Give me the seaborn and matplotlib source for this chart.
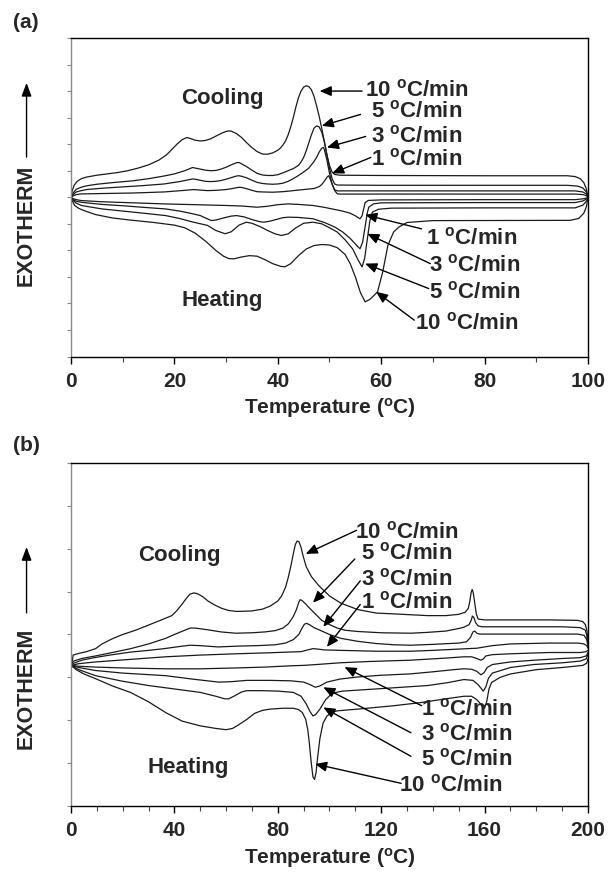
import numpy as np
import matplotlib
matplotlib.use("Agg")
import matplotlib.pyplot as plt
import seaborn as sns
from matplotlib.ticker import MultipleLocator, FixedLocator

# ---------------- Panel (a) data: temperature (C) / heat flow (arb.) ----------------
a_cool10_x = [100, 99.7, 99.2, 98.5, 97.5, 96, 80, 60, 52, 51, 50.5, 50, 49.5, 49, 48.5, 48, 47.5, 47, 46.5, 46, 45.5, 45, 44.5, 44, 43.5, 43, 42.5, 42, 41.5, 41, 40.5, 40, 39, 38, 37, 36, 35, 34, 33, 32, 31, 30.5, 30, 29, 28, 27, 26, 25, 24, 23, 22.4, 21.5, 20.5, 19.5, 18.5, 17, 15, 13, 11, 9, 7, 5, 3, 2, 1.2, 0.6, 0.2, 0]
a_cool10_y = [0, 0.3, 0.55, 0.7, 0.78, 0.81, 0.81, 0.82, 0.83, 0.86, 0.95, 1.2, 1.6, 2.1, 2.6, 3.05, 3.45, 3.8, 4.05, 4.17, 4.2, 4.15, 4.0, 3.75, 3.4, 3.0, 2.65, 2.35, 2.12, 1.97, 1.85, 1.77, 1.67, 1.62, 1.63, 1.72, 1.87, 2.05, 2.25, 2.4, 2.49, 2.5, 2.48, 2.4, 2.3, 2.2, 2.14, 2.12, 2.15, 2.22, 2.25, 2.17, 2.0, 1.8, 1.6, 1.4, 1.22, 1.1, 1.0, 0.93, 0.88, 0.83, 0.76, 0.7, 0.6, 0.45, 0.22, 0]
a_cool5_x = [100, 99.7, 99, 98, 96, 60, 51.5, 51, 50.5, 50, 49.5, 49, 48.5, 48, 47.5, 47, 46.5, 46, 45.5, 45, 44.5, 44, 43, 42, 41, 40, 39, 38, 37, 36, 35, 34, 33, 32.5, 32, 31, 30, 29, 28, 27, 26, 25, 24, 23.5, 23, 22, 20, 18, 15, 12, 8, 5, 3, 2, 1, 0.4, 0]
a_cool5_y = [0, 0.2, 0.35, 0.42, 0.45, 0.45, 0.46, 0.5, 0.7, 1.1, 1.6, 2.1, 2.45, 2.65, 2.69, 2.6, 2.35, 2.05, 1.75, 1.5, 1.33, 1.2, 1.08, 1.0, 0.92, 0.85, 0.82, 0.82, 0.84, 0.9, 1.02, 1.15, 1.26, 1.31, 1.3, 1.22, 1.13, 1.06, 1.01, 1.0, 1.02, 1.06, 1.1, 1.12, 1.08, 1.0, 0.88, 0.8, 0.7, 0.62, 0.55, 0.49, 0.43, 0.38, 0.3, 0.16, 0]
a_cool3_x = [100, 99.7, 99, 97.5, 60, 51.5, 51, 50.5, 50, 49.5, 49, 48.8, 48.5, 48, 47.5, 47, 46.5, 46, 45, 44, 43, 42, 41, 40, 39, 38, 37, 36, 35, 34, 33, 32.5, 32, 31, 30, 29, 28, 27, 26, 25, 24, 23.5, 22.5, 21, 18, 14, 10, 6, 3, 2, 1, 0.4, 0]
a_cool3_y = [0, 0.12, 0.2, 0.24, 0.24, 0.24, 0.28, 0.5, 0.9, 1.4, 1.8, 1.875, 1.85, 1.7, 1.5, 1.35, 1.22, 1.1, 0.95, 0.82, 0.7, 0.6, 0.53, 0.5, 0.49, 0.5, 0.52, 0.56, 0.64, 0.73, 0.79, 0.81, 0.8, 0.74, 0.68, 0.63, 0.6, 0.59, 0.6, 0.64, 0.68, 0.69, 0.65, 0.59, 0.5, 0.44, 0.39, 0.34, 0.29, 0.25, 0.2, 0.1, 0]
a_cool1_x = [100, 99.7, 99, 97.5, 60, 52, 51.5, 51, 50.5, 50, 49.8, 49.5, 49, 48.5, 48, 47, 45, 43, 41, 39, 37, 36, 35, 34, 33, 32.5, 32, 31, 30, 28, 26.4, 25, 23.7, 22, 18, 12, 6, 2, 1, 0.4, 0]
a_cool1_y = [0, 0.06, 0.1, 0.12, 0.12, 0.12, 0.13, 0.25, 0.5, 0.75, 0.81, 0.75, 0.6, 0.48, 0.4, 0.33, 0.29, 0.25, 0.21, 0.19, 0.2, 0.21, 0.26, 0.32, 0.37, 0.375, 0.36, 0.32, 0.29, 0.26, 0.25, 0.27, 0.29, 0.26, 0.2, 0.16, 0.14, 0.125, 0.1, 0.05, 0]
a_heat1_x = [0, 0.4, 1, 2, 6, 12, 18, 24, 30, 33, 36, 38, 40, 42, 44, 46.8, 49, 51, 52.5, 54, 55, 55.9, 56.3, 56.6, 56.9, 57.5, 60, 80, 97.5, 99, 99.7, 100]
a_heat1_y = [0, -0.05, -0.09, -0.125, -0.17, -0.21, -0.25, -0.28, -0.31, -0.33, -0.375, -0.34, -0.28, -0.25, -0.27, -0.31, -0.38, -0.46, -0.52, -0.6, -0.7, -0.81, -0.7, -0.45, -0.2, -0.12, -0.1, -0.09, -0.09, -0.06, -0.03, 0]
a_heat3_x = [0, 0.4, 1, 2, 6, 10, 14, 18.3, 21, 23, 25, 26, 27.1, 28, 29.5, 31, 32, 33.5, 35, 36.5, 37.3, 38.5, 40, 41, 42, 44, 46.8, 49, 51, 52.5, 54, 55.2, 55.9, 56.4, 56.9, 57.3, 57.6, 58.5, 60, 80, 97.5, 99, 99.7, 100]
a_heat3_y = [0, -0.09, -0.15, -0.19, -0.27, -0.32, -0.38, -0.44, -0.52, -0.6, -0.69, -0.78, -0.875, -0.86, -0.78, -0.71, -0.69, -0.74, -0.84, -0.92, -0.94, -0.9, -0.82, -0.77, -0.75, -0.76, -0.81, -0.95, -1.12, -1.3, -1.55, -1.8, -1.94, -1.7, -1.1, -0.6, -0.375, -0.25, -0.21, -0.2, -0.2, -0.14, -0.07, 0]
a_heat5_x = [0, 0.4, 1, 2, 6, 10, 14, 18.3, 21, 23.5, 26.4, 28, 29.8, 31, 32.5, 33.9, 35, 36.5, 38, 39.5, 40.7, 42, 43.5, 45, 46.8, 48.5, 50, 51.5, 53, 54.5, 55.5, 56.3, 56.8, 57.3, 57.8, 58.3, 59.5, 62, 80, 97.5, 99, 99.7, 100]
a_heat5_y = [0, -0.12, -0.22, -0.31, -0.44, -0.52, -0.6, -0.69, -0.8, -0.93, -1.06, -1.25, -1.375, -1.3, -1.05, -0.94, -0.98, -1.1, -1.25, -1.38, -1.44, -1.38, -1.15, -0.98, -0.94, -1.0, -1.15, -1.31, -1.6, -1.95, -2.35, -2.625, -2.3, -1.6, -0.9, -0.56, -0.45, -0.41, -0.4, -0.4, -0.3, -0.15, 0]
a_heat10_x = [0, 0.3, 0.7, 1.5, 2.5, 4.7, 8, 11.5, 16, 20, 22, 24, 26, 28, 29.5, 30.5, 31.5, 33, 34.5, 36, 37.5, 39, 40.5, 41.4, 42.5, 44, 45.5, 47, 48.5, 50, 51.5, 53, 54, 55, 56, 56.9, 57.8, 58.6, 59.3, 60.3, 61.3, 62.4, 63.4, 65, 70, 96.5, 98.2, 99.2, 99.7, 100]
a_heat10_y = [0, -0.15, -0.31, -0.42, -0.5, -0.65, -0.78, -0.86, -0.95, -1.05, -1.15, -1.35, -1.65, -2.0, -2.22, -2.31, -2.32, -2.25, -2.2, -2.22, -2.35, -2.5, -2.6, -2.62, -2.5, -2.2, -1.95, -1.82, -1.78, -1.8, -1.9, -2.15, -2.5, -3.0, -3.6, -3.94, -3.85, -3.7, -3.56, -2.81, -1.81, -1.31, -1.125, -0.95, -0.88, -0.87, -0.8, -0.6, -0.35, 0]

# ---------------- Panel (b) data ----------------
b_cool10_x = [200, 199.6, 199, 198, 196, 185, 170, 160, 157.5, 156.8, 156.2, 155.6, 155.2, 154.8, 154.3, 153.7, 152.5, 150, 145, 138, 131.5, 125, 118, 111, 104.4, 100, 96, 93, 91, 89.8, 89, 88.2, 87.5, 86.8, 86, 85, 84, 83, 81.5, 80, 77, 74, 70, 66, 63.7, 61, 58.3, 55.5, 53, 51, 49, 47.5, 46, 44.7, 43, 41, 39, 35, 30, 25, 20, 16.3, 12, 9.5, 6, 3, 1.4, 0.8, 0.5, 0]
b_cool10_y = [0.55, 0.8, 0.95, 1.02, 1.05, 1.06, 1.06, 1.06, 1.08, 1.2, 1.45, 1.7, 1.77, 1.7, 1.5, 1.33, 1.24, 1.19, 1.16, 1.16, 1.18, 1.2, 1.22, 1.3, 1.45, 1.62, 1.85, 2.07, 2.3, 2.55, 2.75, 2.88, 2.9, 2.82, 2.6, 2.3, 2.04, 1.82, 1.62, 1.5, 1.38, 1.31, 1.27, 1.26, 1.26, 1.28, 1.33, 1.41, 1.5, 1.6, 1.67, 1.69, 1.66, 1.57, 1.43, 1.28, 1.16, 1.06, 0.94, 0.82, 0.72, 0.63, 0.5, 0.39, 0.32, 0.28, 0.25, 0.24, 0.1, 0]
b_cool5_x = [200, 199.5, 199, 197, 190, 170, 159, 157.5, 156.5, 155.8, 155.3, 154.8, 154, 152, 150, 145, 138, 131.5, 120, 111, 106, 103, 100, 97, 94.5, 92.2, 90.5, 89.2, 88.6, 88, 87.2, 86, 84.1, 82, 79, 75, 70, 63.7, 58, 52.9, 48, 46.1, 44, 40, 36.6, 30, 23.1, 16, 9.5, 4.1, 1, 0.4, 0]
b_cool5_y = [0.5, 0.7, 0.82, 0.88, 0.9, 0.9, 0.9, 0.92, 1.0, 1.12, 1.15, 1.05, 0.95, 0.89, 0.86, 0.8, 0.77, 0.75, 0.76, 0.79, 0.82, 0.87, 0.95, 1.05, 1.2, 1.34, 1.45, 1.52, 1.53, 1.45, 1.3, 1.14, 0.97, 0.87, 0.81, 0.78, 0.76, 0.75, 0.78, 0.83, 0.87, 0.87, 0.82, 0.72, 0.63, 0.5, 0.39, 0.3, 0.22, 0.16, 0.1, 0.05, 0]
b_cool3_x = [200, 199.5, 198.5, 196, 170, 158, 157, 156.2, 155.5, 154.5, 153, 150, 140, 131.5, 125, 118, 111, 104.4, 100, 96.3, 94, 92.5, 91.2, 90.3, 89.3, 88.1, 86, 83, 79, 72, 65, 56.9, 50, 46.1, 42, 36, 30, 23.1, 15, 9, 4.1, 1, 0]
b_cool3_y = [0.45, 0.6, 0.7, 0.73, 0.73, 0.73, 0.75, 0.8, 0.78, 0.65, 0.55, 0.52, 0.49, 0.47, 0.48, 0.51, 0.56, 0.63, 0.72, 0.82, 0.88, 0.94, 0.98, 0.96, 0.86, 0.72, 0.6, 0.52, 0.48, 0.46, 0.45, 0.43, 0.46, 0.47, 0.44, 0.39, 0.35, 0.31, 0.24, 0.18, 0.12, 0.05, 0]
b_cool1_x = [200, 199.5, 198.5, 196, 185, 170, 163, 159, 157, 150, 140, 131.5, 118, 104.4, 98, 95.5, 93.6, 91.5, 89, 84.1, 75, 63.7, 50, 36.6, 23, 9.5, 3, 0]
b_cool1_y = [0.4, 0.46, 0.5, 0.52, 0.52, 0.5, 0.46, 0.42, 0.4, 0.38, 0.35, 0.33, 0.33, 0.35, 0.36, 0.38, 0.39, 0.36, 0.32, 0.31, 0.29, 0.27, 0.24, 0.2, 0.14, 0.08, 0.04, 0]
b_heat1_x = [0, 3, 9.5, 20, 36.6, 50, 63.7, 75, 85, 90, 95, 104, 115, 131, 145, 152, 155, 157, 158.6, 159.5, 160.5, 163, 170, 185, 197, 199.3, 200]
b_heat1_y = [0, -0.02, -0.04, -0.06, -0.08, -0.08, -0.06, -0.04, -0.01, 0.0, 0.02, 0.06, 0.09, 0.12, 0.17, 0.2, 0.2, 0.16, 0.12, 0.15, 0.22, 0.25, 0.27, 0.3, 0.3, 0.32, 0.35]
b_heat3_x = [0, 3, 9.5, 20, 36.6, 47, 57, 62, 68, 77, 85, 90, 92.5, 94.5, 96.3, 99, 104, 111, 120, 131, 140, 148, 152, 155, 157, 158.6, 159.8, 161, 163, 170, 179, 190, 197, 199.3, 200]
b_heat3_y = [0, -0.05, -0.12, -0.18, -0.24, -0.32, -0.39, -0.38, -0.35, -0.35, -0.36, -0.39, -0.45, -0.51, -0.48, -0.39, -0.32, -0.27, -0.23, -0.2, -0.15, -0.1, -0.08, -0.09, -0.14, -0.22, -0.17, -0.05, 0.02, 0.08, 0.12, 0.16, 0.18, 0.22, 0.3]
b_heat5_x = [0, 3, 9.5, 20, 30, 40, 50, 56, 59.5, 61, 63, 66, 68, 74, 80, 86, 89, 91, 92.5, 93.6, 94.6, 96.3, 98.5, 101, 105, 118, 128, 138, 146, 152, 155.5, 157.5, 159.5, 160.5, 161.5, 163, 170, 179, 190, 197, 199.3, 200]
b_heat5_y = [0, -0.1, -0.24, -0.37, -0.47, -0.55, -0.63, -0.72, -0.78, -0.78, -0.72, -0.62, -0.59, -0.59, -0.6, -0.63, -0.72, -0.9, -1.08, -1.18, -1.15, -1.02, -0.8, -0.65, -0.6, -0.55, -0.51, -0.47, -0.4, -0.33, -0.35, -0.45, -0.6, -0.5, -0.3, -0.18, -0.05, 0.02, 0.06, 0.1, 0.15, 0.25]
b_heat10_x = [0, 2, 5, 9.5, 16, 23, 30, 36.6, 43, 50, 56, 60, 62.5, 65, 68, 71, 74, 77, 82, 86, 88, 89.5, 90.8, 91.6, 92.2, 92.9, 93.6, 94.2, 94.8, 95.4, 96.3, 97.5, 99, 101, 103, 111, 118, 125, 135, 145, 152, 155, 157, 158.5, 160, 160.8, 161.7, 162.7, 166, 170, 180, 190, 198, 199.5, 200]
b_heat10_y = [0, -0.1, -0.2, -0.31, -0.48, -0.63, -0.85, -1.1, -1.3, -1.41, -1.47, -1.5, -1.47, -1.38, -1.26, -1.12, -1.05, -1.02, -1.0, -1.0, -1.03, -1.1, -1.26, -1.5, -1.81, -2.25, -2.6, -2.66, -2.5, -2.15, -1.7, -1.35, -1.18, -1.1, -1.06, -1.02, -0.98, -0.94, -0.87, -0.78, -0.72, -0.72, -0.8, -0.9, -1.0, -0.85, -0.55, -0.4, -0.28, -0.2, -0.1, -0.05, 0.0, 0.05, 0.15]

rate_labels = ["10", "5", "3", "1"]
heat_labels = ["1", "3", "5", "10"]
xticks_a = [0, 20, 40, 60, 80, 100]
xticks_b = [0, 40, 80, 120, 160, 200]

# ---------------- style ----------------
sns.set_style("ticks")
plt.rcParams["font.family"] = ["Liberation Sans", "DejaVu Sans"]
plt.rcParams["font.weight"] = "bold"
plt.rcParams["mathtext.fontset"] = "custom"
plt.rcParams["mathtext.rm"] = "Liberation Sans:bold"
plt.rcParams["mathtext.bf"] = "Liberation Sans:bold"
plt.rcParams["mathtext.it"] = "Liberation Sans:bold"
DEG = r"$^{\mathrm{o}}$"
LC = "#1a1a1a"

fig = plt.figure(figsize=(6.10, 8.73), dpi=100)
axA = fig.add_axes([0.1164, 0.5916, 0.8475, 0.3649])
axB = fig.add_axes([0.1164, 0.0767, 0.8475, 0.3930])


def draw_curves(ax, curves):
    for x, y in curves:
        sns.lineplot(x=x, y=y, ax=ax, sort=False, estimator=None,
                     color=LC, lw=0.9, legend=False)


def style_axes(ax, xlim, ylim, xticks, minor_step, yticks):
    ax.set_xlim(*xlim)
    ax.set_ylim(*ylim)
    ax.xaxis.set_major_locator(FixedLocator(xticks))
    ax.xaxis.set_minor_locator(MultipleLocator(minor_step))
    ax.set_xticklabels([str(t) for t in xticks], fontsize=15, fontweight="bold")
    ax.yaxis.set_major_locator(FixedLocator(yticks))
    ax.set_yticklabels([])
    ax.tick_params(axis="x", which="major", length=5, width=1, color="black", pad=6, direction="out")
    ax.tick_params(axis="x", which="minor", length=3.5, width=0.8, color="#444", direction="out")
    ax.tick_params(axis="y", which="major", length=3, width=0.8, color="#888", direction="out")
    for s in ["top", "right", "bottom"]:
        ax.spines[s].set_visible(True)
        ax.spines[s].set_color("black")
        ax.spines[s].set_linewidth(1.0)
    ax.spines["left"].set_color("#8a8a8a")
    ax.spines["left"].set_linewidth(1.0)
    ax.set_xlabel("Temperature (" + DEG + "C)", fontsize=15, fontweight="bold", labelpad=4)
    ax.set_ylabel("")
    ax.grid(False)


def label(ax, text, pos, start, tip):
    ax.text(pos[0], pos[1], text, ha="center", va="center", fontsize=16, fontweight="bold")
    ax.annotate("", xy=tip, xytext=start,
                arrowprops=dict(arrowstyle="-|>,head_length=0.7,head_width=0.3",
                                color="black", lw=1.0, shrinkA=0, shrinkB=0,
                                mutation_scale=10))


def exotherm(ax, text_y, arrow_base, arrow_tip):
    ax.text(-0.086, text_y, "EXOTHERM", transform=ax.transAxes, rotation=90,
            ha="center", va="center", fontsize=15.5, fontweight="bold")
    ax.annotate("", xy=(-0.086, arrow_tip), xytext=(-0.086, arrow_base),
                xycoords="axes fraction", textcoords="axes fraction",
                arrowprops=dict(arrowstyle="-|>,head_length=0.8,head_width=0.3",
                                color="black", lw=1.0, shrinkA=0, shrinkB=0,
                                mutation_scale=10))


# ---------------- Panel (a) ----------------
draw_curves(axA, [(a_cool10_x, a_cool10_y), (a_cool5_x, a_cool5_y), (a_cool3_x, a_cool3_y),
                  (a_cool1_x, a_cool1_y), (a_heat1_x, a_heat1_y), (a_heat3_x, a_heat3_y),
                  (a_heat5_x, a_heat5_y), (a_heat10_x, a_heat10_y)])
style_axes(axA, (0, 100), (-6, 6), xticks_a, 10, np.arange(-6, 6.01, 1))
axA.text(29.2, 3.71, "Cooling", ha="center", va="center", fontsize=16, fontweight="bold")
axA.text(29.2, -3.89, "Heating", ha="center", va="center", fontsize=16, fontweight="bold")

a_cool_pos = [(66.8, 4.04), (66.9, 3.25), (66.8, 2.31), (66.8, 1.44)]
a_cool_start = [(56.3, 4.0), (56.0, 3.12), (57.0, 2.29), (58.0, 1.5)]
a_cool_tip = [(48.1, 4.0), (48.5, 2.69), (49.5, 1.875), (50.5, 0.9)]
for r, p, s, t in zip(rate_labels, a_cool_pos, a_cool_start, a_cool_tip):
    label(axA, r + " " + DEG + "C/min", p, s, t)

a_heat_pos = [(77.4, -1.56), (78.0, -2.56), (78.0, -3.59), (76.6, -4.75)]
a_heat_start = [(67.8, -1.19), (69.5, -2.5), (69.2, -3.44), (66.4, -4.63)]
a_heat_tip = [(56.9, -0.66), (57.3, -1.375), (56.9, -2.5), (59.0, -3.56)]
for r, p, s, t in zip(heat_labels, a_heat_pos, a_heat_start, a_heat_tip):
    label(axA, r + " " + DEG + "C/min", p, s, t)

exotherm(axA, 0.413, 0.626, 0.859)

# ---------------- Panel (b) ----------------
draw_curves(axB, [(b_cool10_x, b_cool10_y), (b_cool5_x, b_cool5_y), (b_cool3_x, b_cool3_y),
                  (b_cool1_x, b_cool1_y), (b_heat1_x, b_heat1_y), (b_heat3_x, b_heat3_y),
                  (b_heat5_x, b_heat5_y), (b_heat10_x, b_heat10_y)])
style_axes(axB, (0, 200), (-3.28, 4.72), xticks_b, 10, np.arange(-3.28, 4.73, 1))
axB.text(42.0, 2.56, "Cooling", ha="center", va="center", fontsize=16, fontweight="bold")
axB.text(45.4, -2.39, "Heating", ha="center", va="center", fontsize=16, fontweight="bold")

b_cool_pos = [(130, 3.11), (130, 2.6), (130, 2.0), (130, 1.46)]
b_cool_start = [(110.5, 3.15), (109.8, 2.48), (111.9, 1.97), (111.9, 1.42)]
b_cool_tip = [(90.8, 2.6), (93.6, 1.46), (97.6, 0.9), (99.0, 0.43)]
for r, p, s, t in zip(rate_labels, b_cool_pos, b_cool_start, b_cool_tip):
    label(axB, r + " " + DEG + "C/min", p, s, t)

b_heat_pos = [(153, -1.02), (153, -1.61), (153, -2.19), (147, -2.79)]
b_heat_start = [(135.6, -0.94), (131.5, -1.57), (131.5, -2.12), (127.7, -2.75)]
b_heat_tip = [(105.8, -0.04), (97.6, -0.51), (97.6, -0.98), (94.4, -2.3)]
for r, p, s, t in zip(heat_labels, b_heat_pos, b_heat_start, b_heat_tip):
    label(axB, r + " " + DEG + "C/min", p, s, t)

exotherm(axB, 0.344, 0.563, 0.755)

fig.text(26 / 610, 1 - 22 / 873, "(a)", ha="center", va="center", fontsize=15, fontweight="bold")
fig.text(26 / 610, 1 - 446 / 873, "(b)", ha="center", va="center", fontsize=15, fontweight="bold")

fig.savefig("out.png", dpi=100)
